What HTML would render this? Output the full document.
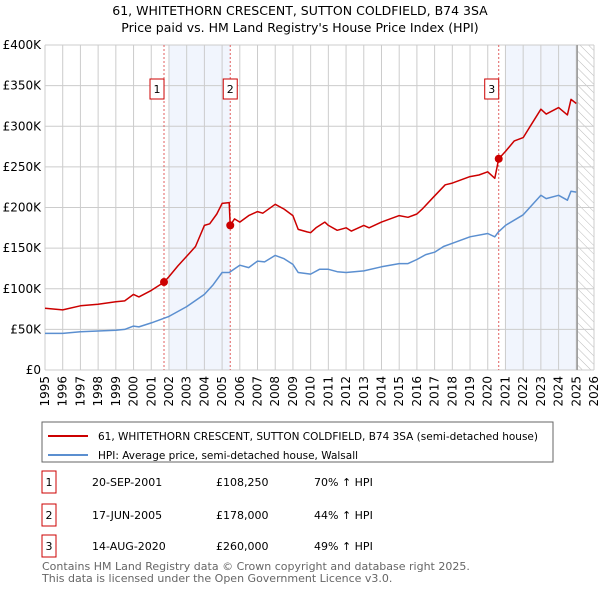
<!DOCTYPE html>
<html><head><meta charset="utf-8"><style>
body{margin:0;background:#fff;font-family:"DejaVu Sans","Liberation Sans",sans-serif;}
svg text{font-family:"DejaVu Sans","Liberation Sans",sans-serif;}
</style></head><body>
<svg id="c" width="600" height="590" xmlns="http://www.w3.org/2000/svg">
<defs><pattern id="h" width="6" height="6" patternUnits="userSpaceOnUse" patternTransform="rotate(-45)"><line x1="0" y1="0" x2="0" y2="6" stroke="#bbb" stroke-width="1"/></pattern></defs>
<text x="300" y="15" text-anchor="middle" font-size="12.5">61, WHITETHORN CRESCENT, SUTTON COLDFIELD, B74 3SA</text>
<text x="300" y="32" text-anchor="middle" font-size="12.5">Price paid vs. HM Land Registry's House Price Index (HPI)</text>
<g id="plot"></g>
<rect x="42" y="422" width="511" height="40" fill="#fff" stroke="#666"/>
<line x1="48" y1="436" x2="88" y2="436" stroke="#cc0000" stroke-width="2"/>
<text x="98" y="440" font-size="10.5">61, WHITETHORN CRESCENT, SUTTON COLDFIELD, B74 3SA (semi-detached house)</text>
<line x1="48" y1="455" x2="88" y2="455" stroke="#5b8fd0" stroke-width="2"/>
<text x="98" y="459" font-size="10.5">HPI: Average price, semi-detached house, Walsall</text>
<g font-size="11" id="tbl"></g>
<text x="42" y="570" font-size="11" fill="#666">Contains HM Land Registry data © Crown copyright and database right 2025.</text>
<text x="42" y="582" font-size="11" fill="#666">This data is licensed under the Open Government Licence v3.0.</text>
</svg>
<script>
const yTicks=[0,50,100,150,200,250,300,350,400];
const yTickLabels=["£0","£50K","£100K","£150K","£200K","£250K","£300K","£350K","£400K"];
const xYears=[1995,1996,1997,1998,1999,2000,2001,2002,2003,2004,2005,2006,2007,2008,2009,2010,2011,2012,2013,2014,2015,2016,2017,2018,2019,2020,2021,2022,2023,2024,2025,2026];
const priceT=[1995,1996,1997,1998,1999,1999.5,2000,2000.3,2001,2001.72,2002,2002.5,2003,2003.5,2004,2004.3,2004.7,2005,2005.4,2005.46,2005.7,2006,2006.5,2007,2007.3,2008,2008.5,2009,2009.3,2009.8,2010,2010.3,2010.8,2011,2011.5,2012,2012.3,2013,2013.3,2014,2015,2015.5,2016,2016.3,2016.9,2017.6,2018,2019,2019.5,2020,2020.4,2020.62,2021,2021.5,2022,2022.4,2023,2023.3,2024,2024.5,2024.7,2025];
const priceV=[76,74,79,81,84,85,93,90,98,108,115,128,140,152,178,180,192,205,206,178,186,182,190,195,193,204,198,190,173,170,169,175,182,178,172,175,171,178,175,182,190,188,192,198,212,228,230,238,240,244,236,260,269,282,286,300,321,315,323,314,333,328];
const hpiT=[1995,1996,1997,1998,1999,1999.5,2000,2000.3,2001,2002,2003,2004,2004.5,2005,2005.4,2006,2006.5,2007,2007.4,2008,2008.5,2009,2009.3,2010,2010.5,2011,2011.5,2012,2013,2014,2015,2015.5,2016,2016.5,2017,2017.5,2018,2019,2020,2020.4,2020.6,2021,2022,2023,2023.3,2024,2024.5,2024.7,2025];
const hpiV=[45,45,47,48,49,50,54,53,58,66,78,93,105,120,120,129,126,134,133,141,137,130,120,118,124,124,121,120,122,127,131,131,136,142,145,152,156,164,168,164,170,178,191,215,211,215,209,220,219];
const saleT=[2001.72,2005.46,2020.62];
const saleV=[108.25,178,260];
const saleLabels=["1","2","3"];
const saleDates=["20-SEP-2001","17-JUN-2005","14-AUG-2020"];
const salePrices=["£108,250","£178,000","£260,000"];
const saleHpi=["70% ↑ HPI","44% ↑ HPI","49% ↑ HPI"];
const shadeStart=[2002,2021];
const shadeEnd=[2005.46,2025.05];

const NS="http://www.w3.org/2000/svg";
const L=45,R=594,T=45,B=370,x0=1995,x1=2026,ymax=400;
const X=t=>L+(t-x0)/(x1-x0)*(R-L);
const Y=v=>B-v/ymax*(B-T);
const g=document.getElementById('plot');
function mk(tag,a,p){const e=document.createElementNS(NS,tag);for(const k in a)e.setAttribute(k,a[k]);(p||g).appendChild(e);return e;}
for(let i=0;i<shadeStart.length;i++){
 const r=mk('rect',{x:X(shadeStart[i]),y:T,width:X(shadeEnd[i])-X(shadeStart[i]),height:B-T,fill:'#eef3fc',opacity:0.8});
 
 
}
const hx=X(2025.05);
const hr=mk('rect',{x:hx,y:T,width:R-hx,height:B-T,fill:'url(#h)'});


xYears.forEach(yr=>{
 const l=mk('line',{x1:X(yr),x2:X(yr),y1:T,y2:B,stroke:'#ccc','stroke-width':1});
 
 
 const t=mk('text',{x:0,y:0,'font-size':12,'text-anchor':'end',transform:`translate(${X(yr)+4},${B+6}) rotate(-90)`});
 t.textContent=yr;
 
 
});
yTicks.forEach((v,i)=>{
 const l=mk('line',{x1:L,x2:R,y1:Y(v),y2:Y(v),stroke:'#ccc','stroke-width':1});
 
 
 const t=mk('text',{x:L-4,y:Y(v)+4,'font-size':12,'text-anchor':'end'});
 t.textContent=yTickLabels[i];
 
 
});
const bl=mk('line',{x1:hx,x2:hx,y1:T,y2:B,stroke:'#999','stroke-width':1.5});


saleT.forEach((t,i)=>{
 const l=mk('line',{x1:X(t),x2:X(t),y1:T,y2:B,stroke:'#e06060','stroke-width':1,'stroke-dasharray':'2,2'});
 
 
});
function path(ts,vs,col,name){
 const d=ts.map((t,i)=>(i?'L':'M')+X(t).toFixed(1)+','+Y(vs[i]).toFixed(1)).join('');
 const p=mk('path',{d:d,fill:'none',stroke:col,'stroke-width':1.5,'stroke-linejoin':'round'});
 
 
}
path(hpiT,hpiV,'#5b8fd0','hpi-line');
path(priceT,priceV,'#cc0000','price-line');
saleT.forEach((t,i)=>{
 const c=mk('circle',{cx:X(t),cy:Y(saleV[i]),r:4,fill:'#cc0000'});
 
 
 const r=mk('rect',{x:X(t)-(i==1?7:14),y:79,width:14,height:20,fill:'#fff',stroke:'#cc0000'});
 
 
 const tx=mk('text',{x:X(t)-(i==1?0:7),y:93,'font-size':11,'text-anchor':'middle'});
 tx.textContent=saleLabels[i];
 
 
});
const tb=document.getElementById('tbl');
const rowY=[482,515,546];
saleLabels.forEach((s,i)=>{
 const y=rowY[i];
 const r=mk('rect',{x:42,y:y-11,width:14,height:22,fill:'#fff',stroke:'#cc0000'},tb);
 
 
 const cells=[[49,s,'middle'],[92,saleDates[i],'start'],[216,salePrices[i],'start'],[314,saleHpi[i],'start']];
 cells.forEach((c,j)=>{
  const t=mk('text',{x:c[0],y:y+4,'text-anchor':c[2]},tb);
  t.textContent=c[1];
  
  
 });
});
</script>
</body></html>
